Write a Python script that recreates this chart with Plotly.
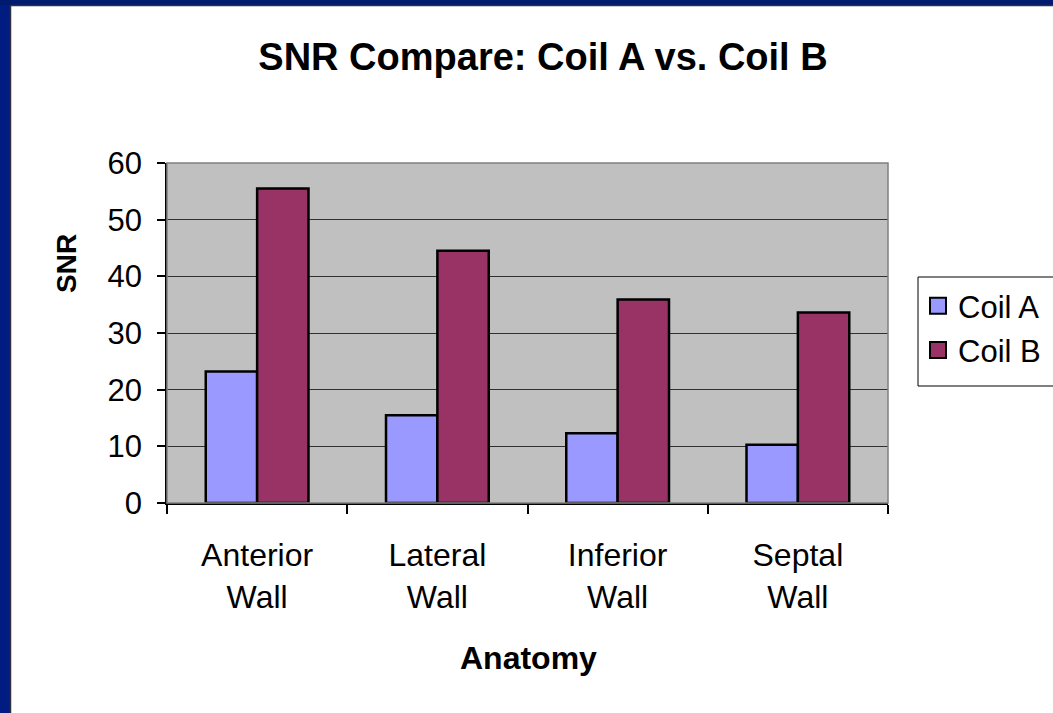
import plotly.graph_objects as go

categories = ["Anterior<br>Wall", "Lateral<br>Wall", "Inferior<br>Wall", "Septal<br>Wall"]
coil_a = [23.2, 15.5, 12.3, 10.3]
coil_b = [55.5, 44.5, 35.9, 33.6]
y_ticks = [0, 10, 20, 30, 40, 50, 60]

W, H = 1053, 713
L, R, T, B = 167, 888, 163, 503
pw, ph = R - L, B - T

def px(x):
    return (x - L) / pw

def py(y):
    return (B - y) / ph

FONT = "Arial, Liberation Sans, sans-serif"

fig = go.Figure()
fig.add_trace(go.Bar(x=categories, y=coil_a, name="Coil A", showlegend=False,
                     marker=dict(color="#9999FF", line=dict(color="black", width=2.5))))
fig.add_trace(go.Bar(x=categories, y=coil_b, name="Coil B", showlegend=False,
                     marker=dict(color="#993366", line=dict(color="black", width=2.5))))
# legend entries with larger square icons
for name, col in [("Coil A", "#9999FF"), ("Coil B", "#993366")]:
    fig.add_trace(go.Scatter(x=[None], y=[None], mode="markers", name=name, legendgroup=name,
                             marker=dict(symbol="square", size=16, color=col,
                                         line=dict(color="black", width=2))))

shapes = [
    dict(type="rect", xref="paper", yref="paper", x0=0, x1=1, y0=0, y1=1,
         line=dict(color="#808080", width=1.5), layer="above"),
    # legend frame (extends past the right edge like the original)
    dict(type="rect", xref="paper", yref="paper", x0=px(918), x1=px(W + 20), y0=py(386), y1=py(277),
         line=dict(color="black", width=1), fillcolor="white", layer="above"),
    dict(type="rect", xref="paper", yref="paper", x0=px(-5), x1=px(10), y0=py(-5), y1=py(H + 5),
         line=dict(width=0), fillcolor="#001C80", layer="above"),
    dict(type="rect", xref="paper", yref="paper", x0=px(-5), x1=px(W + 5), y0=py(-5), y1=py(5),
         line=dict(width=0), fillcolor="#001A70", layer="above"),
    dict(type="line", xref="paper", yref="paper", x0=px(10.5), x1=px(10.5), y0=py(5), y1=py(H + 5),
         line=dict(color="#303040", width=1.5), layer="above"),
    dict(type="line", xref="paper", yref="paper", x0=px(10), x1=px(W + 5), y0=py(5.5), y1=py(5.5),
         line=dict(color="#303040", width=1.5), layer="above"),
]

annotations = [
    dict(text="<b>SNR</b>", xref="paper", yref="paper", x=px(66), y=py(264), textangle=-90,
         showarrow=False, font=dict(family=FONT, size=28, color="black"), xanchor="center", yanchor="middle"),
    dict(text="<b>Anatomy</b>", xref="paper", yref="paper", x=px(528), y=py(658),
         showarrow=False, font=dict(family=FONT, size=32, color="black"), xanchor="center", yanchor="middle"),
]

fig.update_layout(
    width=W, height=H,
    margin=dict(l=L, r=W - R, t=T, b=H - B, autoexpand=False),
    paper_bgcolor="white", plot_bgcolor="#C0C0C0",
    barmode="group", bargap=0.43, bargroupgap=0,
    font=dict(family=FONT, size=31, color="black"),
    title=dict(text="<b>SNR Compare: Coil A vs. Coil B</b>", x=543 / W, xanchor="center",
               y=1 - 57 / H, yanchor="middle", xref="container", yref="container",
               font=dict(family=FONT, size=38, color="black")),
    xaxis=dict(showgrid=False, showline=True, linecolor="black", linewidth=1.5,
               ticks="outside", tickson="boundaries", ticklen=9, tickcolor="black", tickwidth=1.5,
               ticklabelstandoff=23, tickfont=dict(family=FONT, size=32)),
    yaxis=dict(range=[0, 60], tickvals=y_ticks, showgrid=True, gridcolor="#303030", gridwidth=1,
               showline=True, linecolor="black", linewidth=1.5, zeroline=False,
               ticks="outside", ticklen=8, tickcolor="black", tickwidth=1.5,
               ticklabelstandoff=9, tickfont=dict(family=FONT, size=31)),
    legend=dict(x=px(918), y=py(279), xanchor="left", yanchor="top",
                bgcolor="rgba(0,0,0,0)", borderwidth=0,
                font=dict(family=FONT, size=31), traceorder="grouped", tracegroupgap=1),
    shapes=shapes, annotations=annotations,
)

fig.write_html("out.html", config={"displayModeBar": False},
               post_script="document.body.style.margin='0';document.body.style.overflow='hidden';")
